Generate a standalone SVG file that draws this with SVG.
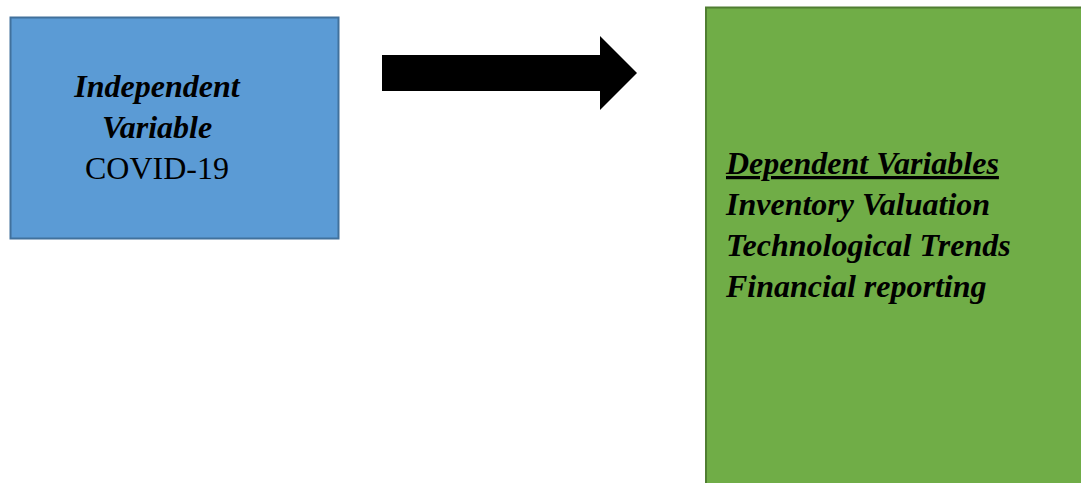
<svg xmlns="http://www.w3.org/2000/svg" width="1081" height="483" viewBox="0 0 1081 483">
<style>
.t{font-family:"Liberation Serif","Times New Roman",serif;font-size:32px;fill:#000}
.bi{font-weight:bold;font-style:italic}
</style>
<rect width="1081" height="483" fill="#fff"/>
<g id="independent">
<rect x="10.5" y="17.5" width="328" height="221" fill="#5b9bd5" stroke="#41719c" stroke-width="2"/>
<text class="t bi" x="157" y="97" text-anchor="middle">Independent</text>
<text class="t bi" x="157" y="138" text-anchor="middle">Variable</text>
<text class="t" x="157" y="179" text-anchor="middle">COVID-19</text>
</g>
<g id="connectors">
<polygon points="382,55 600,55 600,36 637,73 600,110 600,91 382,91" fill="#000"/>
</g>
<g id="dependent">
<rect x="706" y="7.5" width="400" height="500" fill="#70ad47" stroke="#507e32" stroke-width="2"/>
<text class="t bi" x="726" y="174" text-decoration="underline">Dependent Variables</text>
<text class="t bi" x="726" y="215">Inventory Valuation</text>
<text class="t bi" x="726" y="256">Technological Trends</text>
<text class="t bi" x="726" y="297">Financial reporting</text>
</g>
</svg>
